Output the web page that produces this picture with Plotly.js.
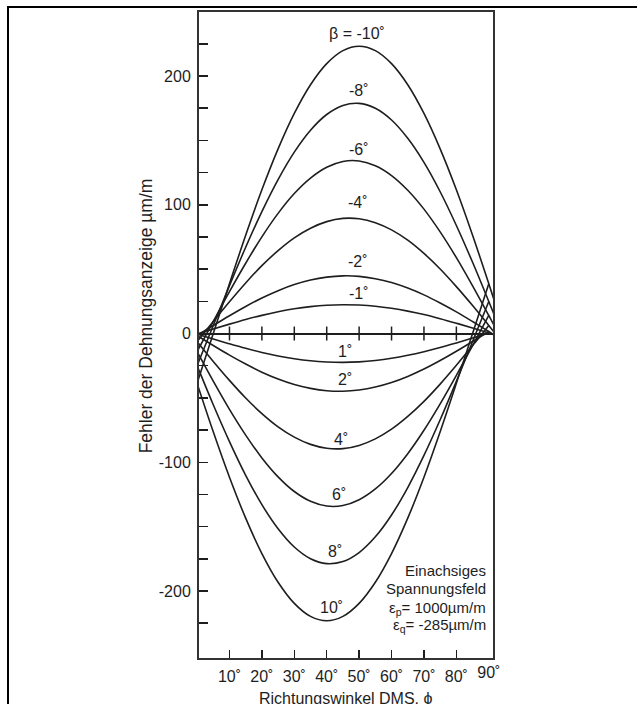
<!DOCTYPE html>
<html><head><meta charset="utf-8">
<script src="https://cdn.plot.ly/plotly-3.0.1.min.js"></script>
<style>
html,body{margin:0;padding:0;background:#fff;}
#wrap{position:relative;width:637px;height:704px;overflow:hidden;}
#chart{position:absolute;left:0;top:0;width:637px;height:704px;}
#frame{position:absolute;left:7px;top:6px;width:700px;height:800px;border-left:2px solid #000;border-top:2px solid #000;pointer-events:none;}
</style></head><body>
<div id="wrap"><div id="chart"></div><div id="frame"></div></div>
<script>
// Richtungswinkel (deg) for the curves with negative beta, and for positive beta
const phiNeg = [0,5,10,15,20,25,30,35,40,45,50,55,60,65,70,75,80,85,90,95];
const phiPos = [-5,0,5,10,15,20,25,30,35,40,45,50,55,60,65,70,75,80,85,90];

// Fehler der Dehnungsanzeige (um/m)
const betaM10 = [-38.7,0,38.7,76.3,111.6,143.4,170.9,193.2,209.6,219.7,223.1,219.7,209.6,193.2,170.9,143.4,111.6,76.3,38.7,0];
const betaM8  = [-24.9,6.2,37.2,67.0,94.7,119.6,140.9,157.9,170.1,177.1,178.7,174.9,165.8,151.6,132.9,110.1,83.9,55.3,24.9,-6.2];
const betaM6  = [-14.0,9.4,32.5,54.6,75.1,93.3,108.7,120.7,129.1,133.6,134.0,130.3,122.7,111.3,96.6,78.9,58.9,37.0,14.0,-9.4];
const betaM4  = [-6.3,9.4,24.7,39.3,52.7,64.4,74.3,81.8,86.9,89.4,89.1,86.1,80.5,72.5,62.2,50.1,36.4,21.7,6.3,-9.4];
const betaM2  = [-1.6,6.2,13.8,21.0,27.6,33.3,38.0,41.5,43.8,44.8,44.4,42.6,39.6,35.3,30.0,23.7,16.8,9.3,1.6,-6.2];
const betaM1  = [-0.4,3.5,7.3,10.9,14.1,16.9,19.2,20.9,22.0,22.4,22.1,21.2,19.6,17.4,14.7,11.5,8.0,4.3,0.4,-3.5];
const betaP1  = [3.5,-0.4,-4.3,-8.0,-11.5,-14.7,-17.4,-19.6,-21.2,-22.1,-22.4,-22.0,-20.9,-19.2,-16.9,-14.1,-10.9,-7.3,-3.5,0.4];
const betaP2  = [6.2,-1.6,-9.3,-16.8,-23.7,-30.0,-35.3,-39.6,-42.6,-44.4,-44.8,-43.8,-41.5,-38.0,-33.3,-27.6,-21.0,-13.8,-6.2,1.6];
const betaP4  = [9.4,-6.3,-21.7,-36.4,-50.1,-62.2,-72.5,-80.5,-86.1,-89.1,-89.4,-86.9,-81.8,-74.3,-64.4,-52.7,-39.3,-24.7,-9.4,6.3];
const betaP6  = [9.4,-14.0,-37.0,-58.9,-78.9,-96.6,-111.3,-122.7,-130.3,-134.0,-133.6,-129.1,-120.7,-108.7,-93.3,-75.1,-54.6,-32.5,-9.4,14.0];
const betaP8  = [6.2,-24.9,-55.3,-83.9,-110.1,-132.9,-151.6,-165.8,-174.9,-178.7,-177.1,-170.1,-157.9,-140.9,-119.6,-94.7,-67.0,-37.2,-6.2,24.9];
const betaP10 = [0,-38.7,-76.3,-111.6,-143.4,-170.9,-193.2,-209.6,-219.7,-223.1,-219.7,-209.6,-193.2,-170.9,-143.4,-111.6,-76.3,-38.7,0,38.7];

const curveLabels = ['β = -10˚','-8˚','-6˚','-4˚','-2˚','-1˚','1˚','2˚','4˚','6˚','8˚','10˚'];
const xTickVals = [10,20,30,40,50,60,70,80];
const xTickText = ['10˚','20˚','30˚','40˚','50˚','60˚','70˚','80˚'];
const xLastTick = [90];
const xLastText = ['90˚'];
const yTickVals = [-225,-200,-175,-150,-125,-100,-75,-50,-25,0,25,50,75,100,125,150,175,200,225];
const yTickText = ['','-200','','','','-100','','','','0','','','','100','','','','200',''];
const zeroTicksY = [0,0,0,0,0,0,0,0];
const infoLines = ['Einachsiges','Spannungsfeld','ε<sub>p</sub>= 1000µm/m','ε<sub>q</sub>= -285µm/m'];

const FONT = 'Liberation Sans, Arial, Helvetica, sans-serif';
const INK = '#1e1e1e';

const negSeries = [betaM10,betaM8,betaM6,betaM4,betaM2,betaM1];
const posSeries = [betaP1,betaP2,betaP4,betaP6,betaP8,betaP10];
const traces = [];
negSeries.forEach(s => traces.push({x: phiNeg, y: s, type:'scatter', mode:'lines',
  line:{color:INK, width:1.6, shape:'spline'}, hoverinfo:'skip', showlegend:false}));
posSeries.forEach(s => traces.push({x: phiPos, y: s, type:'scatter', mode:'lines',
  line:{color:INK, width:1.6, shape:'spline'}, hoverinfo:'skip', showlegend:false}));
// tick marks on the zero line
traces.push({x: xTickVals, y: zeroTicksY, type:'scatter', mode:'markers',
  marker:{symbol:'line-ns-open', size:10, color:INK, line:{width:1.5, color:INK}}, hoverinfo:'skip', showlegend:false});
// carrier for the second x axis (90° label)
traces.push({x: xLastTick, y: [0], xaxis:'x2', type:'scatter', mode:'markers',
  marker:{opacity:0}, hoverinfo:'skip', showlegend:false});

const labelPos = [[49.4,233],[50,189],[50,143],[49.7,102],[49.7,56],[50,31],
                  [45.6,-14],[45.6,-36],[44.4,-82],[43.8,-125],[42.5,-169],[41.6,-213]];
const annotations = curveLabels.map((t,i) => ({x:labelPos[i][0], y:labelPos[i][1], xref:'x', yref:'y',
  text:t, showarrow:false, font:{family:FONT, size:16, color:INK}, xanchor:'center', yanchor:'middle'}));
const infoY = [-183.7,-198.4,-213.2,-226.4];
infoLines.forEach((t,i) => annotations.push({x:89.8, y:infoY[i], xref:'x', yref:'y', text:t,
  showarrow:false, xanchor:'right', yanchor:'middle', font:{family:FONT, size:15, color:INK}}));
annotations.push({x:-0.18, y:0.529, xref:'paper', yref:'paper', text:'Fehler der Dehnungsanzeige µm/m',
  textangle:-90, showarrow:false, xanchor:'center', yanchor:'middle', font:{family:FONT, size:17.5, color:INK}});
annotations.push({x:0.5, y:-0.062, xref:'paper', yref:'paper', text:'Richtungswinkel DMS, ϕ',
  showarrow:false, xanchor:'center', yanchor:'middle', font:{family:FONT, size:16, color:INK}});

const axisCommon = {showgrid:false, showline:true, linecolor:'#333', linewidth:2, mirror:true,
  tickfont:{family:FONT, size:16, color:INK}, tickcolor:INK, tickwidth:1.5};
const layout = {
  width:637, height:704, margin:{l:199, r:144, t:12, b:46},
  paper_bgcolor:'#fff', plot_bgcolor:'#fff', showlegend:false,
  xaxis: Object.assign({}, axisCommon, {range:[0.6,91.3], tickmode:'array', tickvals:xTickVals, ticktext:xTickText,
    ticks:'inside', ticklen:8, zeroline:false, ticklabelstandoff:3}),
  xaxis2: {overlaying:'x', anchor:'y', side:'bottom', range:[0.6,91.3], tickmode:'array', tickvals:xLastTick,
    ticktext:xLastText, ticks:'inside', ticklen:8, tickcolor:'rgba(0,0,0,0)', showline:false, showgrid:false, zeroline:false,
    tickfont:{family:FONT, size:16, color:INK}, ticklabelstandoff:3},
  yaxis: Object.assign({}, axisCommon, {range:[-252,249.7], tickmode:'array', tickvals:yTickVals, ticktext:yTickText,
    ticks:'inside', ticklen:9, zeroline:true, zerolinecolor:INK, zerolinewidth:2, ticklabelstandoff:3}),
  annotations: annotations
};
Plotly.newPlot('chart', traces, layout, {staticPlot:true, displayModeBar:false});
</script></body></html>
